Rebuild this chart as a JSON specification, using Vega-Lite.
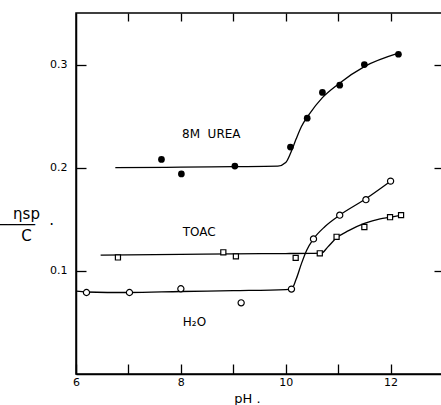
{
  "$schema": "https://vega.github.io/schema/vega-lite/v6.json",
  "autosize": {"type": "none"},
  "padding": {"left": 76, "top": 13, "right": 0, "bottom": 31},
  "width": 367,
  "height": 361,
  "background": "white",
  "config": {
    "view": {"stroke": "black", "strokeWidth": 1.5},
    "font": "DejaVu Sans",
    "axis": {"grid": false, "domainColor": "black", "domainWidth": 1.5, "tickColor": "black", "tickWidth": 1.3, "labelColor": "black", "titleColor": "black", "labelFont": "DejaVu Sans", "titleFont": "DejaVu Sans", "titleFontWeight": "normal"}
  },
  "datasets": {
    "points": [
      {"series": "urea", "ph": 7.63, "v": 0.208},
      {"series": "urea", "ph": 8.01, "v": 0.194},
      {"series": "urea", "ph": 9.03, "v": 0.2016},
      {"series": "urea", "ph": 10.09, "v": 0.22},
      {"series": "urea", "ph": 10.41, "v": 0.248},
      {"series": "urea", "ph": 10.7, "v": 0.273},
      {"series": "urea", "ph": 11.03, "v": 0.28},
      {"series": "urea", "ph": 11.5, "v": 0.3},
      {"series": "urea", "ph": 12.15, "v": 0.31},
      {"series": "h2o", "ph": 6.2, "v": 0.079},
      {"series": "h2o", "ph": 7.02, "v": 0.079},
      {"series": "h2o", "ph": 8.0, "v": 0.0826},
      {"series": "h2o", "ph": 9.15, "v": 0.069},
      {"series": "h2o", "ph": 10.11, "v": 0.0823},
      {"series": "h2o", "ph": 10.53, "v": 0.131},
      {"series": "h2o", "ph": 11.03, "v": 0.154},
      {"series": "h2o", "ph": 11.53, "v": 0.169},
      {"series": "h2o", "ph": 12.0, "v": 0.187},
      {"series": "toac", "ph": 6.8, "v": 0.113},
      {"series": "toac", "ph": 8.81, "v": 0.118},
      {"series": "toac", "ph": 9.05, "v": 0.114},
      {"series": "toac", "ph": 10.19, "v": 0.1126},
      {"series": "toac", "ph": 10.65, "v": 0.117},
      {"series": "toac", "ph": 10.97, "v": 0.133},
      {"series": "toac", "ph": 11.5, "v": 0.1425},
      {"series": "toac", "ph": 11.99, "v": 0.152},
      {"series": "toac", "ph": 12.2, "v": 0.154}
    ],
    "curves": [
      {"series": "urea", "ph": 6.75, "v": 0.2},
      {"series": "urea", "ph": 8.0, "v": 0.2005},
      {"series": "urea", "ph": 9.0, "v": 0.201},
      {"series": "urea", "ph": 9.85, "v": 0.2015},
      {"series": "urea", "ph": 10.0, "v": 0.205},
      {"series": "urea", "ph": 10.1, "v": 0.215},
      {"series": "urea", "ph": 10.2, "v": 0.228},
      {"series": "urea", "ph": 10.3, "v": 0.24},
      {"series": "urea", "ph": 10.45, "v": 0.252},
      {"series": "urea", "ph": 10.7, "v": 0.268},
      {"series": "urea", "ph": 11.0, "v": 0.281},
      {"series": "urea", "ph": 11.5, "v": 0.298},
      {"series": "urea", "ph": 12.15, "v": 0.311},
      {"series": "toac", "ph": 6.47, "v": 0.1152},
      {"series": "toac", "ph": 8.0, "v": 0.116},
      {"series": "toac", "ph": 9.0, "v": 0.1165},
      {"series": "toac", "ph": 10.0, "v": 0.1168},
      {"series": "toac", "ph": 10.5, "v": 0.117},
      {"series": "toac", "ph": 10.68, "v": 0.1172},
      {"series": "toac", "ph": 10.8, "v": 0.123},
      {"series": "toac", "ph": 10.97, "v": 0.132},
      {"series": "toac", "ph": 11.2, "v": 0.139},
      {"series": "toac", "ph": 11.5, "v": 0.146},
      {"series": "toac", "ph": 11.8, "v": 0.1505},
      {"series": "toac", "ph": 12.0, "v": 0.152},
      {"series": "toac", "ph": 12.2, "v": 0.154},
      {"series": "h2o", "ph": 6.0, "v": 0.0803},
      {"series": "h2o", "ph": 6.2, "v": 0.0795},
      {"series": "h2o", "ph": 7.0, "v": 0.079},
      {"series": "h2o", "ph": 8.0, "v": 0.08},
      {"series": "h2o", "ph": 9.0, "v": 0.0808},
      {"series": "h2o", "ph": 10.0, "v": 0.0818},
      {"series": "h2o", "ph": 10.11, "v": 0.0823},
      {"series": "h2o", "ph": 10.2, "v": 0.092},
      {"series": "h2o", "ph": 10.3, "v": 0.107},
      {"series": "h2o", "ph": 10.4, "v": 0.12},
      {"series": "h2o", "ph": 10.53, "v": 0.131},
      {"series": "h2o", "ph": 10.75, "v": 0.143},
      {"series": "h2o", "ph": 11.03, "v": 0.154},
      {"series": "h2o", "ph": 11.5, "v": 0.169},
      {"series": "h2o", "ph": 12.0, "v": 0.187}
    ],
    "labels": [
      {"label": "8M\u00a0\u00a0UREA", "ph": 8.58, "v": 0.2326},
      {"label": "TOAC", "ph": 8.35, "v": 0.1381},
      {"label": "H₂O", "ph": 8.26, "v": 0.0506}
    ]
  },
  "resolve": {"axis": {"x": "independent", "y": "independent"}},
  "layer": [
    {
      "data": {"name": "curves"},
      "mark": {"type": "line", "interpolate": "monotone", "color": "black", "strokeWidth": 1.3},
      "encoding": {
        "x": {"field": "ph", "type": "quantitative", "scale": {"domain": [6, 13], "nice": false, "zero": false},
          "axis": {"orient": "bottom", "values": [6, 7, 8, 9, 10, 11, 12, 13], "tickSize": -10, "labelPadding": 12, "labelFontSize": 11,
            "labelExpr": "(datum.value % 2 == 0 && datum.value < 13) ? datum.label : ''", "labelFlush": false,
            "title": "pH .", "titleFontSize": 13, "titleX": 171, "titleY": 28, "titleBaseline": "alphabetic", "titleAlign": "center"}},
        "y": {"field": "v", "type": "quantitative", "scale": {"domain": [0, 0.35], "nice": false},
          "axis": {"orient": "left", "values": [0.1, 0.2, 0.3], "format": ".1f", "tickSize": -10, "labelPadding": 19, "labelFontSize": 11,
            "title": ["ηsp", "\u00a0\u00a0\u00a0────\u00a0\u00a0\u00a0·", "C"], "titleAngle": 0, "titleFontSize": 15, "titleLineHeight": 11, "titleX": -50, "titleY": 193, "titleAlign": "center", "titleBaseline": "top"}},
        "detail": {"field": "series"}
      }
    },
    {
      "data": {"name": "points"},
      "transform": [{"filter": "datum.series == 'urea'"}],
      "mark": {"type": "point", "shape": "circle", "filled": true, "color": "black", "size": 45, "opacity": 1},
      "encoding": {
        "x": {"field": "ph", "type": "quantitative", "scale": {"domain": [6, 13], "nice": false, "zero": false},
          "axis": {"orient": "top", "values": [7, 8, 9, 10, 11, 12], "tickSize": -8, "labels": false, "domain": false, "title": null}},
        "y": {"field": "v", "type": "quantitative", "scale": {"domain": [0, 0.35], "nice": false},
          "axis": {"orient": "right", "values": [0.1, 0.2, 0.3], "tickSize": -9, "labels": false, "domain": false, "title": null}}
      }
    },
    {
      "data": {"name": "points"},
      "transform": [{"filter": "datum.series == 'h2o'"}],
      "mark": {"type": "point", "shape": "circle", "filled": false, "fill": "white", "stroke": "black", "strokeWidth": 1.2, "size": 38, "opacity": 1},
      "encoding": {
        "x": {"field": "ph", "type": "quantitative", "axis": null},
        "y": {"field": "v", "type": "quantitative", "axis": null}
      }
    },
    {
      "data": {"name": "points"},
      "transform": [{"filter": "datum.series == 'toac'"}],
      "mark": {"type": "point", "shape": "square", "filled": false, "fill": "white", "stroke": "black", "strokeWidth": 1.2, "size": 26, "opacity": 1},
      "encoding": {
        "x": {"field": "ph", "type": "quantitative", "axis": null},
        "y": {"field": "v", "type": "quantitative", "axis": null}
      }
    },
    {
      "data": {"name": "labels"},
      "mark": {"type": "text", "font": "DejaVu Sans", "fontSize": 12, "color": "black", "align": "center", "baseline": "middle"},
      "encoding": {
        "x": {"field": "ph", "type": "quantitative", "axis": null},
        "y": {"field": "v", "type": "quantitative", "axis": null},
        "text": {"field": "label"}
      }
    }
  ]
}
